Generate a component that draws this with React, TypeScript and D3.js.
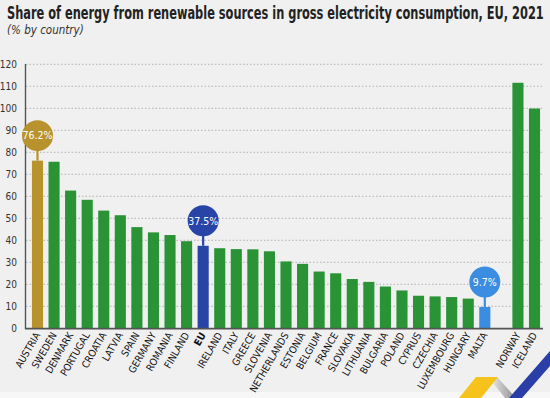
import React, { useLayoutEffect, useRef, useState } from 'react';
import * as d3 from 'd3';

const countries = [
  'AUSTRIA', 'SWEDEN', 'DENMARK', 'PORTUGAL', 'CROATIA', 'LATVIA', 'SPAIN', 'GERMANY',
  'ROMANIA', 'FINLAND', 'EU', 'IRELAND', 'ITALY', 'GREECE', 'SLOVENIA', 'NETHERLANDS',
  'ESTONIA', 'BELGIUM', 'FRANCE', 'SLOVAKIA', 'LITHUANIA', 'BULGARIA', 'POLAND', 'CYPRUS',
  'CZECHIA', 'LUXEMBOURG', 'HUNGARY', 'MALTA', '', 'NORWAY', 'ICELAND',
];
const shares = [
  76.2, 75.7, 62.6, 58.4, 53.5, 51.4, 46.0, 43.6,
  42.4, 39.6, 37.5, 36.4, 36.0, 35.9, 35.0, 30.4,
  29.3, 25.8, 25.0, 22.4, 21.1, 19.0, 17.2, 14.8,
  14.5, 14.2, 13.5, 9.7, null, 111.6, 99.9,
];
const yTicks = [0, 10, 20, 30, 40, 50, 60, 70, 80, 90, 100, 110, 120];
// highlighted bars get a bubble with the value
const highlights = ['AUSTRIA', 'EU', 'MALTA'];
const highlightColors = ['#b8922c', '#2744a6', '#3a8de0'];

const title = 'Share of energy from renewable sources in gross electricity consumption, EU, 2021';
const subtitle = '(% by country)';

const W = 550;
const H = 398;
const font = '"Liberation Sans Narrow", "DejaVu Sans Condensed", sans-serif';
const green = '#2a9336';

export default function App() {
  const titleRef = useRef<SVGTextElement>(null);
  const [titleScale, setTitleScale] = useState(0.78);

  // squeeze the title horizontally so it spans the width like the condensed original
  useLayoutEffect(() => {
    const len = titleRef.current ? titleRef.current.getComputedTextLength() : 0;
    if (len > 0) setTitleScale(537 / len);
  }, []);

  const key = (c, i) => c || '_gap' + i;
  const x = d3.scaleBand<string>().domain(countries.map(key))
    .range([29.2, 542.8]).paddingInner(0.33).paddingOuter(0.165);
  const y = d3.scaleLinear().domain([0, 120]).range([328.3, 64.3]);
  const bw = x.bandwidth();

  return (
    <div style={{ position: 'absolute', left: 0, top: 0 }}>
      <svg width={W} height={H} style={{ display: 'block' }}>
        <rect x={0} y={0} width={W} height={392} fill='#f0f0f0' />
        <rect x={0} y={392} width={W} height={6} fill='#f7f7f7' />

        {/* titles */}
        <text ref={titleRef} transform={`translate(7,19) scale(${titleScale},1)`} fontFamily={font}
          fontWeight='bold' fontSize={17} fill='#222'>{title}</text>
        <text x={7} y={34} fontFamily={font} fontStyle='italic' fontSize={11.5} fill='#333'>{subtitle}</text>

        {/* grid + y labels */}
        <g>
          {yTicks.map(t => (
            <g key={t}>
              {t > 0 && (
                <line x1={26} x2={543} y1={y(t)} y2={y(t)} stroke='#a0a0a0'
                  strokeWidth={0.8} strokeDasharray='1.5,2' />
              )}
              <text x={17} y={y(t)} dy='0.35em' textAnchor='end' fontFamily={font}
                fontSize={10} fill='#333'>{t}</text>
            </g>
          ))}
        </g>

        {/* bars */}
        <g>
          {countries.map((c, i) => {
            const v = shares[i];
            if (v == null) return null;
            const h = highlights.indexOf(c);
            return (
              <rect key={c} x={x(key(c, i))} y={y(v)} width={bw} height={y(0) - y(v)}
                fill={h >= 0 ? highlightColors[h] : green} />
            );
          })}
        </g>

        {/* axes */}
        <line x1={25.5} x2={25.5} y1={64} y2={329} stroke='#555' strokeWidth={1.4} />
        <line x1={25} x2={543} y1={328.6} y2={328.6} stroke='#555' strokeWidth={1.6} />

        {/* callouts */}
        <g>
          {highlights.map((c, k) => {
            const i = countries.indexOf(c);
            const v = shares[i];
            const cx = x(key(c, i)) + bw / 2;
            const top = y(v);
            const cy = top - 25;
            return (
              <g key={c}>
                <line x1={cx} x2={cx} y1={cy + 15} y2={top} stroke={highlightColors[k]} strokeWidth={2.2} />
                <circle cx={cx} cy={cy} r={15.5} fill={highlightColors[k]} />
                <text x={cx} y={cy} dy='0.36em' textAnchor='middle' fontFamily={font}
                  fontSize={10.5} fill='#fff'>{v.toFixed(1) + '%'}</text>
              </g>
            );
          })}
        </g>

        {/* x labels */}
        <g>
          {countries.map((c, i) => {
            if (!c) return null;
            const cx = x(key(c, i)) + bw / 2;
            return (
              <text key={c} transform={`translate(${cx + 3},${335}) rotate(-60)`} textAnchor='end'
                fontFamily={font} fontSize={10} fontWeight={c === 'EU' ? 'bold' : 'normal'}
                fill='#111'>{c}</text>
            );
          })}
        </g>

        {/* logo stripes */}
        <g>
          <defs>
            <linearGradient id='greyStripe' x1='0' x2='1' y1='0' y2='0'>
              <stop offset='0' stopColor='#eeeeee' />
              <stop offset='1' stopColor='#8e8e8e' />
            </linearGradient>
          </defs>
          <polygon points='489,378 498,378 516,398 505,398' fill='url(#greyStripe)' />
          <polygon points='459,398 476,377 498,377 481,398' fill='#f6c21c' />
          <polygon points='509,398 550,351 550,366 522,398' fill='#2a3ea8' />
        </g>
      </svg>
    </div>
  );
}
